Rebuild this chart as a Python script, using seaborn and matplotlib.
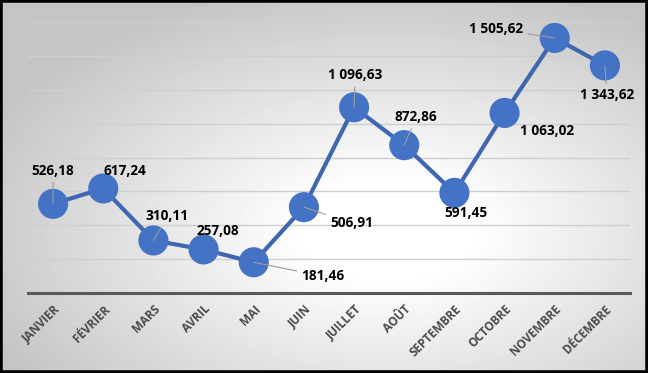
import numpy as np
import pandas as pd
import matplotlib
matplotlib.use("Agg")
import matplotlib.pyplot as plt
import seaborn as sns
from matplotlib.patches import Rectangle

# donnees
mois = ["JANVIER", "FÉVRIER", "MARS", "AVRIL", "MAI", "JUIN",
        "JUILLET", "AOÛT", "SEPTEMBRE", "OCTOBRE", "NOVEMBRE", "DÉCEMBRE"]
ventes = [526.18, 617.24, 310.11, 257.08, 181.46, 506.91,
          1096.63, 872.86, 591.45, 1063.02, 1505.62, 1343.62]

df = pd.DataFrame({"Mois": mois, "Ventes": ventes})


def fmt_fr(v):
    return f"{v:,.2f}".replace(",", " ").replace(".", ",")


# position des etiquettes (decalage en pixels) et lignes de rappel
decalages = [(0, 33), (22, 17), (14, 24), (14, 18), (69, -14), (48, -16),
             (1, 32), (12, 28), (11, -20), (42, -18), (-59, 9), (2, -30)]
rappel = [True, False, True, False, True, True,
          True, True, False, False, True, True]

sns.set_style("white")
plt.rcParams["font.family"] = ["Open Sans", "DejaVu Sans"]

fig = plt.figure(figsize=(6.48, 3.73), dpi=100)

# fond en degrade radial
bg = fig.add_axes([0, 0, 1, 1], zorder=-10)
yy, xx = np.mgrid[0:1:373j, 0:1:648j]
r = np.sqrt(((xx - 0.60) / 0.85) ** 2 + ((yy - 0.62) / 0.85) ** 2)
g = 1 - 0.23 * np.clip((r - 0.15) / 0.65, 0, 1)
bg.imshow(g, cmap="gray", vmin=0, vmax=1, aspect="auto", extent=(0, 1, 0, 1))
bg.axis("off")

ax = fig.add_axes([28 / 648, 1 - 293 / 373, 602 / 648, 271 / 373])
ax.set_facecolor("none")

sns.lineplot(data=df, x="Mois", y="Ventes", sort=False, color="#3E67AF",
             linewidth=3, ax=ax, zorder=2)
sns.scatterplot(data=df, x="Mois", y="Ventes", color="#4472C4", s=470,
                edgecolor="none", ax=ax, zorder=3)

for i, (v, (dx, dy), lr) in enumerate(zip(ventes, decalages, rappel)):
    ap = dict(arrowstyle="-", color="#9C9C9C", lw=0.8, shrinkA=1, shrinkB=0) if lr else None
    ax.annotate(fmt_fr(v), xy=(i, v), xytext=(dx * 0.72, dy * 0.72),
                textcoords="offset points", ha="center", va="center",
                fontsize=9.8, fontweight="bold", color="black",
                arrowprops=ap, zorder=5)

ax.set_xlim(-0.5, 11.5)
ax.set_ylim(0, 1600)
ax.set_yticks(range(0, 1601, 200))
ax.set_yticklabels([])
ax.yaxis.grid(True, color="#CFCFCF", lw=1)
ax.set_axisbelow(True)
ax.tick_params(axis="both", length=0)
ax.set_xticks(range(len(mois)))
ax.set_xticklabels(mois, rotation=45, ha="right", rotation_mode="anchor",
                   fontsize=8.5, fontweight="bold", color="#4A4A4A")
ax.tick_params(axis="x", pad=7)
ax.set_xlabel("")
ax.set_ylabel("")
for s in ["top", "left", "right"]:
    ax.spines[s].set_visible(False)
ax.spines["bottom"].set_color("#595959")
ax.spines["bottom"].set_linewidth(2.2)

fig.add_artist(Rectangle((0, 0), 1, 1, transform=fig.transFigure, fill=False,
                         lw=4, ec="black"))

fig.savefig("out.png", dpi=100)
